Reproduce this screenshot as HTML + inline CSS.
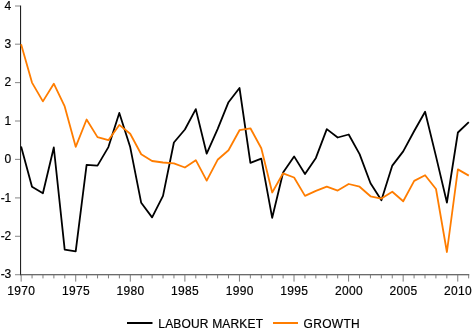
<!DOCTYPE html><html><head><meta charset="utf-8"><title>chart</title><style>html,body{margin:0;padding:0;background:#fff}svg{display:block;will-change:transform}text{font-family:"Liberation Sans",Arial,sans-serif;font-size:12px;fill:#000;stroke:#000;stroke-width:0.18px}</style></head><body>
<svg width="472" height="329" viewBox="0 0 472 329">
<rect width="472" height="329" fill="#fff"/>
<g stroke="#222" stroke-width="1.2" fill="none">
<line x1="20.55" y1="5.5" x2="20.55" y2="275.3" stroke-width="1.1"/>
<line x1="20" y1="274.7" x2="469.3" y2="274.7" stroke="#3a3a3a" stroke-width="1.1"/>
</g>
<g stroke="#909090" stroke-width="1.1" fill="none">
<line x1="15" y1="274.7" x2="20" y2="274.7"/>
<line x1="15" y1="236.3" x2="20" y2="236.3"/>
<line x1="15" y1="197.9" x2="20" y2="197.9"/>
<line x1="15" y1="159.4" x2="20" y2="159.4"/>
<line x1="15" y1="121.0" x2="20" y2="121.0"/>
<line x1="15" y1="82.6" x2="20" y2="82.6"/>
<line x1="15" y1="44.2" x2="20" y2="44.2"/>
<line x1="15" y1="6.0" x2="20" y2="6.0"/>
<line x1="21.15" y1="275" x2="21.15" y2="281.6" stroke="#777" stroke-width="0.95"/>
<line x1="32.06" y1="275" x2="32.06" y2="278.4" stroke="#777" stroke-width="0.95"/>
<line x1="42.98" y1="275" x2="42.98" y2="278.4" stroke="#777" stroke-width="0.95"/>
<line x1="53.89" y1="275" x2="53.89" y2="278.4" stroke="#777" stroke-width="0.95"/>
<line x1="64.81" y1="275" x2="64.81" y2="278.4" stroke="#777" stroke-width="0.95"/>
<line x1="75.72" y1="275" x2="75.72" y2="281.6" stroke="#777" stroke-width="0.95"/>
<line x1="86.64" y1="275" x2="86.64" y2="278.4" stroke="#777" stroke-width="0.95"/>
<line x1="97.56" y1="275" x2="97.56" y2="278.4" stroke="#777" stroke-width="0.95"/>
<line x1="108.47" y1="275" x2="108.47" y2="278.4" stroke="#777" stroke-width="0.95"/>
<line x1="119.38" y1="275" x2="119.38" y2="278.4" stroke="#777" stroke-width="0.95"/>
<line x1="130.30" y1="275" x2="130.30" y2="281.6" stroke="#777" stroke-width="0.95"/>
<line x1="141.22" y1="275" x2="141.22" y2="278.4" stroke="#777" stroke-width="0.95"/>
<line x1="152.13" y1="275" x2="152.13" y2="278.4" stroke="#777" stroke-width="0.95"/>
<line x1="163.04" y1="275" x2="163.04" y2="278.4" stroke="#777" stroke-width="0.95"/>
<line x1="173.96" y1="275" x2="173.96" y2="278.4" stroke="#777" stroke-width="0.95"/>
<line x1="184.88" y1="275" x2="184.88" y2="281.6" stroke="#777" stroke-width="0.95"/>
<line x1="195.79" y1="275" x2="195.79" y2="278.4" stroke="#777" stroke-width="0.95"/>
<line x1="206.70" y1="275" x2="206.70" y2="278.4" stroke="#777" stroke-width="0.95"/>
<line x1="217.62" y1="275" x2="217.62" y2="278.4" stroke="#777" stroke-width="0.95"/>
<line x1="228.53" y1="275" x2="228.53" y2="278.4" stroke="#777" stroke-width="0.95"/>
<line x1="239.45" y1="275" x2="239.45" y2="281.6" stroke="#777" stroke-width="0.95"/>
<line x1="250.36" y1="275" x2="250.36" y2="278.4" stroke="#777" stroke-width="0.95"/>
<line x1="261.28" y1="275" x2="261.28" y2="278.4" stroke="#777" stroke-width="0.95"/>
<line x1="272.19" y1="275" x2="272.19" y2="278.4" stroke="#777" stroke-width="0.95"/>
<line x1="283.11" y1="275" x2="283.11" y2="278.4" stroke="#777" stroke-width="0.95"/>
<line x1="294.02" y1="275" x2="294.02" y2="281.6" stroke="#777" stroke-width="0.95"/>
<line x1="304.94" y1="275" x2="304.94" y2="278.4" stroke="#777" stroke-width="0.95"/>
<line x1="315.85" y1="275" x2="315.85" y2="278.4" stroke="#777" stroke-width="0.95"/>
<line x1="326.77" y1="275" x2="326.77" y2="278.4" stroke="#777" stroke-width="0.95"/>
<line x1="337.68" y1="275" x2="337.68" y2="278.4" stroke="#777" stroke-width="0.95"/>
<line x1="348.60" y1="275" x2="348.60" y2="281.6" stroke="#777" stroke-width="0.95"/>
<line x1="359.51" y1="275" x2="359.51" y2="278.4" stroke="#777" stroke-width="0.95"/>
<line x1="370.43" y1="275" x2="370.43" y2="278.4" stroke="#777" stroke-width="0.95"/>
<line x1="381.34" y1="275" x2="381.34" y2="278.4" stroke="#777" stroke-width="0.95"/>
<line x1="392.26" y1="275" x2="392.26" y2="278.4" stroke="#777" stroke-width="0.95"/>
<line x1="403.17" y1="275" x2="403.17" y2="281.6" stroke="#777" stroke-width="0.95"/>
<line x1="414.09" y1="275" x2="414.09" y2="278.4" stroke="#777" stroke-width="0.95"/>
<line x1="425.00" y1="275" x2="425.00" y2="278.4" stroke="#777" stroke-width="0.95"/>
<line x1="435.92" y1="275" x2="435.92" y2="278.4" stroke="#777" stroke-width="0.95"/>
<line x1="446.83" y1="275" x2="446.83" y2="278.4" stroke="#777" stroke-width="0.95"/>
<line x1="457.75" y1="275" x2="457.75" y2="281.6" stroke="#777" stroke-width="0.95"/>
<line x1="468.66" y1="275" x2="468.66" y2="278.4" stroke="#777" stroke-width="0.95"/>
</g>
<text x="11.3" y="278" text-anchor="end">-3</text>
<text x="11.3" y="240" text-anchor="end">-2</text>
<text x="11.3" y="202" text-anchor="end">-1</text>
<text x="11.3" y="163" text-anchor="end">0</text>
<text x="11.3" y="125" text-anchor="end">1</text>
<text x="11.3" y="86" text-anchor="end">2</text>
<text x="11.3" y="48" text-anchor="end">3</text>
<text x="11.3" y="10" text-anchor="end">4</text>
<text x="21.2" y="294.7" text-anchor="middle" letter-spacing="0.33">1970</text>
<text x="75.9" y="294.7" text-anchor="middle" letter-spacing="0.33">1975</text>
<text x="130.4" y="294.7" text-anchor="middle" letter-spacing="0.33">1980</text>
<text x="185.1" y="294.7" text-anchor="middle" letter-spacing="0.33">1985</text>
<text x="239.7" y="294.7" text-anchor="middle" letter-spacing="0.33">1990</text>
<text x="294.2" y="294.7" text-anchor="middle" letter-spacing="0.33">1995</text>
<text x="348.9" y="294.7" text-anchor="middle" letter-spacing="0.33">2000</text>
<text x="403.4" y="294.7" text-anchor="middle" letter-spacing="0.33">2005</text>
<text x="458.1" y="294.7" text-anchor="middle" letter-spacing="0.33">2010</text>
<polyline points="21.1,146.4 32.0,186.7 42.9,193.2 53.8,147.5 64.7,249.7 75.7,251.3 86.6,164.8 97.5,165.6 108.4,147.1 119.3,112.9 130.2,147.1 141.2,202.8 152.1,217.4 163.0,195.9 173.9,142.5 184.9,129.5 195.8,109.1 206.7,153.7 217.6,129.1 228.5,102.2 239.5,88.0 250.4,162.9 261.3,158.7 272.2,217.8 283.1,172.5 294.1,156.4 305.0,174.0 315.9,157.9 326.8,129.1 337.7,137.5 348.7,134.5 359.6,154.1 370.5,183.3 381.4,200.2 392.3,165.6 403.2,151.4 414.2,131.0 425.1,111.8 436.0,156.4 446.9,202.5 457.9,132.5 468.8,122.2" fill="none" stroke="#000" stroke-width="1.8" stroke-linejoin="round"/>
<polyline points="21.1,44.2 32.0,82.6 42.9,101.4 53.8,83.7 64.7,106.4 75.7,146.8 86.6,119.5 97.5,137.1 108.4,140.2 119.3,124.9 130.2,133.7 141.2,154.2 152.1,161.0 163.0,162.5 173.9,163.3 184.9,167.5 195.8,160.2 206.7,180.6 217.6,159.8 228.5,150.2 239.5,130.2 250.4,128.3 261.3,148.3 272.2,192.5 283.1,173.3 294.1,177.5 305.0,195.9 315.9,190.9 326.8,186.7 337.7,190.6 348.7,184.0 359.6,186.7 370.5,196.3 381.4,198.6 392.3,191.7 403.2,201.3 414.2,180.9 425.1,175.2 436.0,189.0 446.9,252.0 457.9,169.4 468.8,175.6" fill="none" stroke="#ff7d00" stroke-width="1.8" stroke-linejoin="round"/>
<line x1="127" y1="323" x2="152.5" y2="323" stroke="#000" stroke-width="2"/>
<text x="158.3" y="327.9" letter-spacing="0.17">LABOUR MARKET</text>
<line x1="273" y1="323" x2="298" y2="323" stroke="#ff7d00" stroke-width="2"/>
<text x="303.6" y="327.9" letter-spacing="0.3">GROWTH</text>
</svg></body></html>
